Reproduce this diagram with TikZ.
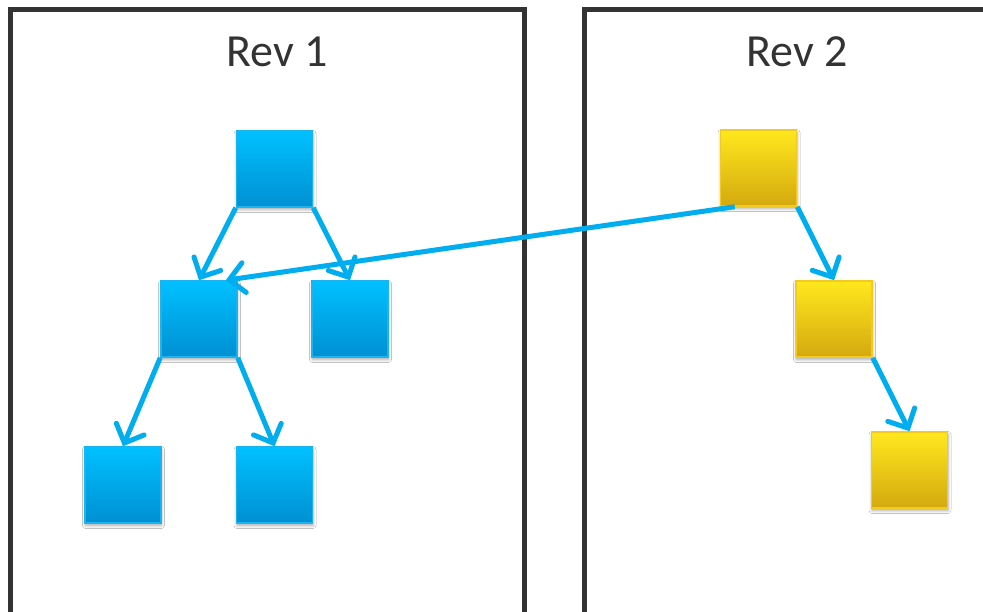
\documentclass[tikz,border=0pt]{standalone}
\usepackage{fontspec}
\setmainfont{Carlito}
\usetikzlibrary{arrows.meta,shadows.blur}
\definecolor{framegray}{HTML}{333333}
\definecolor{linkblue}{HTML}{00AEEF}
\definecolor{bluetop}{HTML}{00C0FF}
\definecolor{bluebot}{HTML}{0090D2}
\definecolor{blueedge}{HTML}{1AB4F0}
\definecolor{yeltop}{HTML}{FFE81E}
\definecolor{yelbot}{HTML}{D4A90F}
\definecolor{yeledge}{HTML}{F2CB1E}
\tikzset{
  panel/.style={draw=framegray, line width=5pt},
  title/.style={font=\fontsize{46}{50}\selectfont, text=framegray, anchor=base, inner sep=0pt},
  box/.style={minimum size=76pt, inner sep=0pt, line width=1.5pt,
    blur shadow={shadow xshift=0.5pt, shadow yshift=-2.5pt, shadow blur radius=3pt, shadow opacity=35}},
  bluebox/.style={box, draw=blueedge, top color=bluetop, bottom color=bluebot},
  yelbox/.style={box, draw=yeledge, top color=yeltop, bottom color=yelbot},
  link/.style={draw=linkblue, line width=5pt,
    -{Straight Barb[length=15pt, width=30pt, line cap=round]}},
}
\begin{document}
\begin{tikzpicture}[x=1pt, y=-1pt]
  \useasboundingbox (0,0) rectangle (983,612);
  \fill[white] (0,0) rectangle (983,612);

  % the two revision panels
  \begin{scope}
    \clip (0,0) rectangle (983,612);
    \draw[panel] (10.5,10) rectangle (524.5,640);
    \draw[panel] (584.5,10) rectangle (1010,640);
  \end{scope}
  \node[title] (t1) at (277,67) {Rev 1};
  \node[title] (t2) at (797,67) {Rev 2};

  % revision 1 tree
  \node[bluebox] (b1) at (274.5,169) {};
  \node[bluebox] (b2) at (199,319) {};
  \node[bluebox] (b3) at (350,319) {};
  \node[bluebox] (b4) at (123,485) {};
  \node[bluebox] (b5) at (274.5,485) {};

  % revision 2 chain
  \node[yelbox] (y1) at (758.5,168) {};
  \node[yelbox] (y2) at (834,319) {};
  \node[yelbox] (y3) at (909.5,470) {};

  \draw[link] (b1.south west) -- (b2.north);
  \draw[link] (b1.south east) -- (b3.north);
  \draw[link] (b2.south west) -- (b4.north);
  \draw[link] (b2.south east) -- (b5.north);
  \draw[link] (y1.south east) -- (y2.north);
  \draw[link] (y2.south east) -- (y3.north);
  \draw[link] ([xshift=15pt]y1.south west) -- ([xshift=-12pt]b2.north east);
\end{tikzpicture}
\end{document}
